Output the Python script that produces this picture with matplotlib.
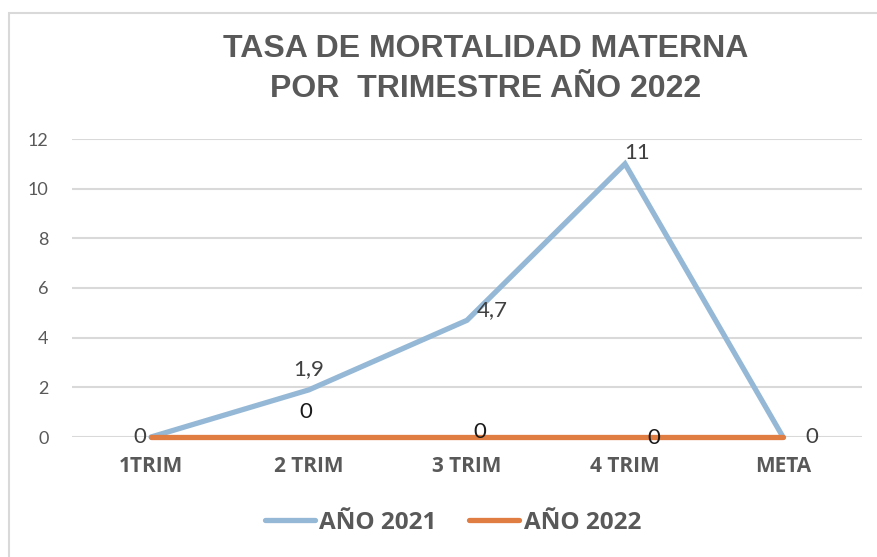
import matplotlib
matplotlib.use("Agg")
import matplotlib.pyplot as plt
from matplotlib.patches import Rectangle

categories = ["1TRIM", "2 TRIM", "3 TRIM", "4 TRIM", "META"]
serie_2021 = [0, 1.9, 4.7, 11, 0]
serie_2022 = [0, 0, 0, 0, 0]
labels_2021 = ["0", "1,9", "4,7", "11", "0"]
labels_2022 = ["", "0", "0", "0", ""]
yticks = [0, 2, 4, 6, 8, 10, 12]

W, H = 878, 557
fig = plt.figure(figsize=(W / 100, H / 100), dpi=100)
fig.patch.set_facecolor("white")

BOLD = "Open Sans"
REG = "Lato"

# chart border
fig.add_artist(Rectangle((8.5 / W, -0.05), 1.2, (H - 12.5) / H + 0.05,
                         transform=fig.transFigure, fill=False,
                         edgecolor="#d9d9d9", linewidth=1.5))

ax = fig.add_axes([72 / W, (H - 437) / H, (862 - 72) / W, (437 - 139) / H])
ax.set_xlim(-0.5, len(categories) - 0.5)
ax.set_ylim(0, 12)
for s in ax.spines.values():
    s.set_visible(False)
ax.set_yticks(yticks)
ax.set_yticklabels([str(v) for v in yticks], fontfamily=REG, fontsize=13, color="#595959")
ax.set_xticks(range(len(categories)))
ax.set_xticklabels(categories, fontfamily=BOLD, fontsize=15, fontweight="bold", color="#595959")
ax.tick_params(axis="both", length=0)
ax.tick_params(axis="y", pad=17)
ax.tick_params(axis="x", pad=14)
ax.grid(axis="y", color="#d9d9d9", linewidth=1.5)
ax.set_axisbelow(True)

x = list(range(len(categories)))
l1, = ax.plot(x, serie_2021, color="#95b8d6", linewidth=3.8, solid_capstyle="round",
              solid_joinstyle="miter", label="AÑO 2021", zorder=3, clip_on=False)
l2, = ax.plot(x, serie_2022, color="#df7d42", linewidth=3.8, solid_capstyle="round",
              label="AÑO 2022", zorder=4, clip_on=False)

off_2021 = [(-11, 0), (0, 21), (25, 10), (12, 11), (29, 0)]
off_2022 = [(0, 0), (-3, 25), (13, 5), (29, -1), (0, 0)]
for i, (v, t) in enumerate(zip(serie_2021, labels_2021)):
    if t:
        ax.annotate(t, (i, v), xytext=off_2021[i], textcoords="offset pixels",
                    ha="center", va="center", fontfamily=REG, fontsize=16,
                    color="#404040", zorder=6)
for i, (v, t) in enumerate(zip(serie_2022, labels_2022)):
    if t:
        ax.annotate(t, (i, v), xytext=off_2022[i], textcoords="offset pixels",
                    ha="center", va="center", fontfamily=REG, fontsize=16,
                    color="#1a1a1a", zorder=6)

fig.text(486 / W, 1 - 69 / H, "TASA DE MORTALIDAD MATERNA\nPOR  TRIMESTRE AÑO 2022",
         ha="center", va="center", fontfamily="Liberation Sans", fontweight="bold",
         fontsize=23, color="#595959", linespacing=1.4)

leg = fig.legend(handles=[l1, l2], loc="center", bbox_to_anchor=(453 / W, 1 - 523 / H),
                 ncol=2, frameon=False, handlelength=2.05, handletextpad=0.18,
                 columnspacing=1.35, prop={"family": BOLD, "weight": "bold", "size": 17.5})
for t in leg.get_texts():
    t.set_color("#595959")

fig.savefig("out.png", dpi=100, facecolor="white")
